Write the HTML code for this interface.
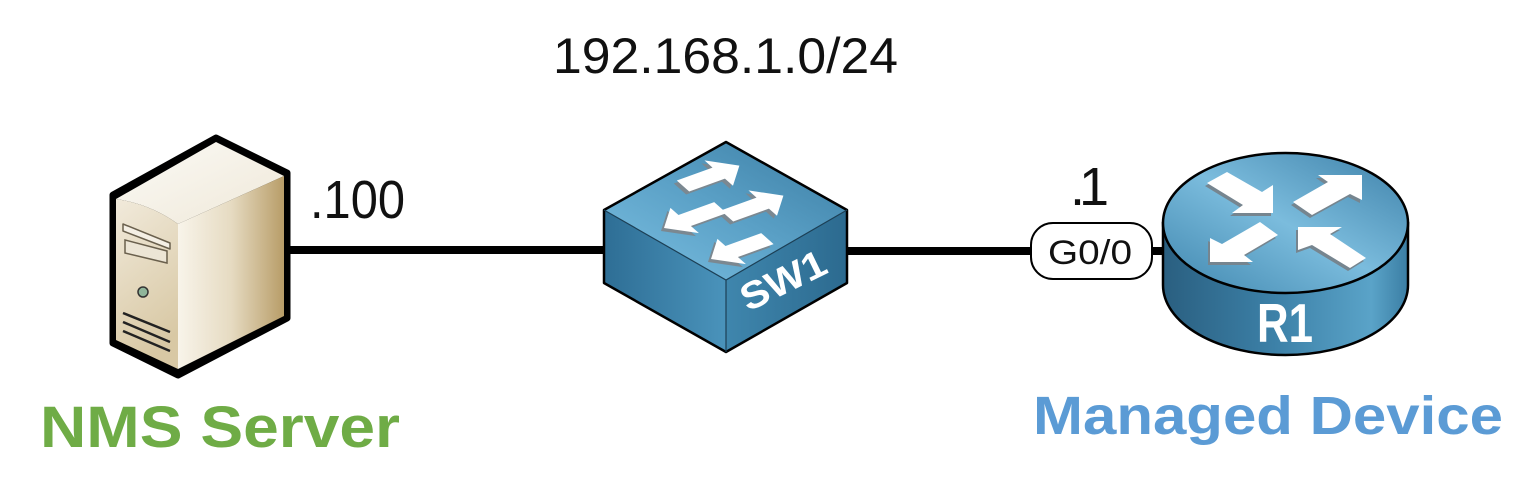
<!DOCTYPE html>
<html><head><meta charset="utf-8"><style>
html,body{margin:0;padding:0;background:#fff;}
svg{display:block;}
text{font-family:"Liberation Sans",sans-serif;}
</style></head><body>
<svg width="1536" height="503" viewBox="0 0 1536 503" xmlns="http://www.w3.org/2000/svg">
<defs>
<linearGradient id="srvTop" x1="0" y1="0" x2="1" y2="1"><stop offset="0" stop-color="#fbfaf6"/><stop offset="1" stop-color="#efe8d8"/></linearGradient>
<linearGradient id="srvFront" x1="0" y1="0" x2="0.3" y2="1"><stop offset="0" stop-color="#f1eadb"/><stop offset="1" stop-color="#d8c8a4"/></linearGradient>
<linearGradient id="srvRight" x1="0" y1="0" x2="1" y2="0"><stop offset="0" stop-color="#f8f4ea"/><stop offset="0.5" stop-color="#e6dbc2"/><stop offset="1" stop-color="#b89d68"/></linearGradient>
<linearGradient id="swTop" x1="0" y1="1" x2="1" y2="0"><stop offset="0" stop-color="#7cc0e2"/><stop offset="0.5" stop-color="#5aa0c6"/><stop offset="1" stop-color="#3a7ca2"/></linearGradient>
<linearGradient id="swLeft" x1="0" y1="0" x2="1" y2="0"><stop offset="0" stop-color="#2e6e95"/><stop offset="1" stop-color="#4a93bb"/></linearGradient>
<linearGradient id="swRight" x1="0" y1="0" x2="1" y2="0"><stop offset="0" stop-color="#3f86ad"/><stop offset="1" stop-color="#2c6a8f"/></linearGradient>
<linearGradient id="rtTop" x1="0" y1="1" x2="1" y2="0"><stop offset="0" stop-color="#3f86ae"/><stop offset="0.5" stop-color="#7bbcdd"/><stop offset="1" stop-color="#3d80a8"/></linearGradient>
<linearGradient id="rtSide" x1="0" y1="0" x2="1" y2="0"><stop offset="0" stop-color="#2a5f80"/><stop offset="0.45" stop-color="#3c80a7"/><stop offset="0.85" stop-color="#5aa3c8"/><stop offset="1" stop-color="#3b7ea4"/></linearGradient>
</defs>

<!-- connectors -->
<line x1="285" y1="250" x2="606" y2="250" stroke="#000" stroke-width="8"/>
<line x1="845" y1="251" x2="1032" y2="251" stroke="#000" stroke-width="8"/>
<line x1="1150" y1="251" x2="1166" y2="251" stroke="#000" stroke-width="8"/>

<!-- server -->
<path d="M113,195 L216,138 L287,173 L287,318 L178,375 L113,343 Z" fill="#000" stroke="#000" stroke-width="7" stroke-linejoin="round"/>
<path d="M116,199 L216,142 L284,176 L178,224 Q150,204 116,199 Z" fill="url(#srvTop)"/>
<path d="M116,199 Q150,204 178,224 L178,369 L116,340 Z" fill="url(#srvFront)"/>
<path d="M178,224 L284,176 L284,316 L178,369 Z" fill="url(#srvRight)"/>
<path d="M123,224 L170,243 L170,249 L123,231 Z" fill="#f4efe4" stroke="#6a604d" stroke-width="1.5" stroke-linejoin="round"/>
<path d="M125,240 L167,251 L167,263 L125,253 Z" fill="#ece5d5" stroke="#6a604d" stroke-width="1.5"/>
<circle cx="143" cy="292" r="5" fill="#8fb59a" stroke="#333" stroke-width="1.5"/>
<line x1="123" y1="313" x2="170" y2="332" stroke="#222" stroke-width="2.5"/>
<line x1="123" y1="322" x2="170" y2="342" stroke="#222" stroke-width="2.5"/>
<line x1="123" y1="331" x2="170" y2="351" stroke="#222" stroke-width="2.5"/>

<!-- switch -->
<path d="M726,142 L847,210 L726,280 L604,210 Z" fill="url(#swTop)"/>
<path d="M604,210 L726,280 L726,352 L604,283 Z" fill="url(#swLeft)"/>
<path d="M726,280 L847,210 L847,283 L726,352 Z" fill="url(#swRight)"/>
<path d="M726,142 L847,210 L847,283 L726,352 L604,283 L604,210 Z" fill="none" stroke="#000" stroke-width="2.5" stroke-linejoin="round"/>
<path d="M604,210 L726,280 L847,210 M726,280 L726,352" fill="none" stroke="#1c3f55" stroke-width="1.2"/>
<!-- switch arrows: shadows -->
<g fill="#7b8891">
<g transform="matrix(0.94,-0.34,0.62,0.55,680,189)"><path d="M0,-10 L38,-10 L38,-23 L60,0 L38,23 L38,10 L0,10 Z"/></g>
<g transform="matrix(0.94,-0.34,0.62,0.55,661,231)"><path d="M0,0 L22,-23 L22,-10 L60,-10 L60,10 L22,10 L22,23 Z"/></g>
<g transform="matrix(0.94,-0.34,0.62,0.55,724,219)"><path d="M0,-10 L38,-10 L38,-23 L60,0 L38,23 L38,10 L0,10 Z"/></g>
<g transform="matrix(0.94,-0.34,0.62,0.55,708,262)"><path d="M0,0 L22,-23 L22,-10 L60,-10 L60,10 L22,10 L22,23 Z"/></g>
</g>
<g fill="#fff">
<g transform="matrix(0.94,-0.34,0.62,0.55,683,186)"><path d="M0,-10 L38,-10 L38,-23 L60,0 L38,23 L38,10 L0,10 Z"/></g>
<g transform="matrix(0.94,-0.34,0.62,0.55,664,228)"><path d="M0,0 L22,-23 L22,-10 L60,-10 L60,10 L22,10 L22,23 Z"/></g>
<g transform="matrix(0.94,-0.34,0.62,0.55,727,216)"><path d="M0,-10 L38,-10 L38,-23 L60,0 L38,23 L38,10 L0,10 Z"/></g>
<g transform="matrix(0.94,-0.34,0.62,0.55,711,259)"><path d="M0,0 L22,-23 L22,-10 L60,-10 L60,10 L22,10 L22,23 Z"/></g>
</g>
<text transform="translate(748,312) rotate(-26)" font-size="38" font-weight="bold" fill="#fff" textLength="91" lengthAdjust="spacingAndGlyphs">SW1</text>

<!-- router -->
<path d="M1163,223 L1163,285 A122.5 70 0 0 0 1408,285 L1408,223 Z" fill="url(#rtSide)" stroke="#000" stroke-width="2.5"/>
<ellipse cx="1285.5" cy="223" rx="122.5" ry="70" fill="url(#rtTop)" stroke="#000" stroke-width="2.5"/>
<g fill="#76858f" transform="translate(-2,3)">
<polygon points="1273,213 1232,213 1243,205 1207,183 1227,172 1262,192 1273,185"/>
<polygon points="1362,175 1362,200 1350,194 1312,215 1293,202 1328,182 1318,175"/>
<polygon points="1210,262 1210,238 1222,244 1260,222 1278,235 1244,255 1253,262"/>
<polygon points="1298,227 1342,227 1330,234 1366,258 1350,268 1312,245 1298,250"/>
</g>
<g fill="#fff">
<polygon points="1273,213 1232,213 1243,205 1207,183 1227,172 1262,192 1273,185"/>
<polygon points="1362,175 1362,200 1350,194 1312,215 1293,202 1328,182 1318,175"/>
<polygon points="1210,262 1210,238 1222,244 1260,222 1278,235 1244,255 1253,262"/>
<polygon points="1298,227 1342,227 1330,234 1366,258 1350,268 1312,245 1298,250"/>
</g>
<text x="1257" y="342" font-size="55" font-weight="bold" fill="#fff" textLength="56" lengthAdjust="spacingAndGlyphs">R1</text>

<!-- interface label -->
<rect x="1031" y="223" width="121" height="56" rx="22" ry="22" fill="#fff" stroke="#000" stroke-width="2"/>
<text x="1048" y="264" font-size="34" fill="#111" textLength="84" lengthAdjust="spacingAndGlyphs">G0/0</text>

<!-- labels -->
<text x="553" y="73" font-size="50" fill="#111" textLength="345" lengthAdjust="spacingAndGlyphs">192.168.1.0/24</text>
<text x="310" y="218" font-size="54" fill="#111" textLength="95" lengthAdjust="spacingAndGlyphs">.100</text>
<text x="1070" y="205" font-size="54" fill="#111">.</text>
<text x="1079" y="205" font-size="54" fill="#111">1</text>
<text x="40" y="447" font-size="58" font-weight="bold" fill="#6fac46" textLength="360" lengthAdjust="spacingAndGlyphs">NMS Server</text>
<text x="1033" y="434" font-size="54" font-weight="bold" fill="#5b9bd5" textLength="470" lengthAdjust="spacingAndGlyphs">Managed Device</text>
</svg>
</body></html>
